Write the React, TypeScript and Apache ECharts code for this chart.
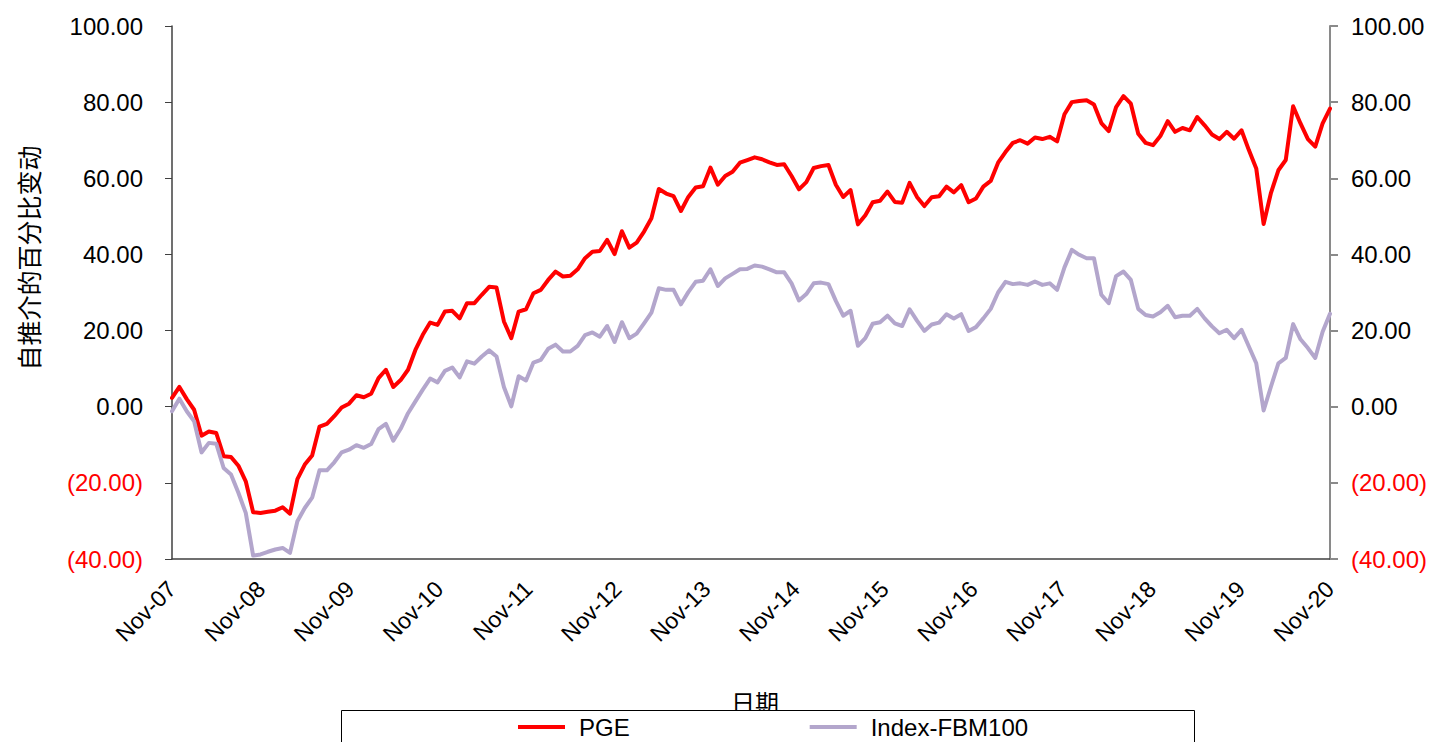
import { useEffect, useRef } from "react";
import * as echarts from "echarts";

const yearLabels = [
  "Nov-07", "Nov-08", "Nov-09", "Nov-10", "Nov-11", "Nov-12", "Nov-13",
  "Nov-14", "Nov-15", "Nov-16", "Nov-17", "Nov-18", "Nov-19", "Nov-20",
];

const seriesNames = ["PGE", "Index-FBM100"];
const yAxisTitle = "自推介的百分比变动";
const xAxisTitle = "日期";

const pge = [
  2.3, 5.2, 2.0, -0.8, -7.6, -6.5, -6.9, -13.0, -13.2, -15.5, -19.6, -27.7, -27.9, -27.6, -27.3, -26.4,
  -28.1, -19.0, -15.2, -12.8, -5.2, -4.5, -2.5, -0.2, 0.8, 3.0, 2.5, 3.4, 7.5, 9.7, 5.2, 7.0,
  9.7, 14.9, 18.9, 22.1, 21.5, 25.0, 25.2, 23.2, 27.2, 27.2, 29.4, 31.5, 31.3, 22.4, 18.0, 25.0,
  25.6, 29.8, 30.7, 33.3, 35.5, 34.2, 34.4, 36.1, 39.0, 40.7, 40.9, 43.8, 40.1, 46.1, 41.8, 43.1,
  46.0, 49.5, 57.2, 56.0, 55.3, 51.4, 55.1, 57.6, 57.9, 62.8, 58.3, 60.6, 61.7, 64.1, 64.8, 65.5,
  65.0, 64.2, 63.5, 63.7, 60.6, 57.1, 59.0, 62.7, 63.2, 63.5, 58.3, 55.1, 56.9, 47.9, 50.3, 53.7,
  54.1, 56.5, 53.8, 53.6, 58.8, 55.1, 52.7, 55.0, 55.3, 57.8, 56.3, 58.2, 53.7, 54.7, 57.8, 59.3,
  64.1, 66.9, 69.3, 70.0, 69.1, 70.7, 70.3, 70.9, 69.7, 76.8, 80.0, 80.3, 80.5, 79.4, 74.5, 72.4,
  78.7, 81.6, 79.6, 71.7, 69.3, 68.7, 71.1, 75.0, 72.2, 73.2, 72.6, 76.1, 73.9, 71.5, 70.3,
  72.2, 70.4, 72.6, 67.4, 62.6, 48.0, 56.2, 62.1, 64.8, 78.9, 74.4, 70.3, 68.3, 74.4, 78.3,
];

const fbm100 = [
  -1.2, 2.1, -1.2, -3.8, -12.0, -9.5, -9.7, -16.1, -17.8, -22.6, -27.9, -39.1, -38.8, -38.1, -37.5, -37.1,
  -38.4, -30.1, -26.6, -23.9, -16.7, -16.7, -14.6, -12.0, -11.3, -10.1, -10.8, -9.8, -5.9, -4.5, -8.9, -5.8,
  -1.7, 1.4, 4.5, 7.4, 6.4, 9.4, 10.3, 7.7, 11.9, 11.3, 13.2, 14.8, 13.2, 5.2, 0.1, 8.0,
  6.9, 11.6, 12.3, 15.2, 16.3, 14.5, 14.5, 16.0, 18.8, 19.5, 18.4, 21.2, 17.0, 22.2, 18.0, 19.2,
  21.9, 24.7, 31.1, 30.7, 30.7, 26.9, 30.1, 32.8, 33.1, 36.1, 31.7, 33.7, 34.9, 36.1, 36.2, 37.1,
  36.8, 36.1, 35.3, 35.3, 32.4, 27.9, 29.6, 32.4, 32.6, 32.2, 27.8, 23.9, 25.2, 16.0, 18.0, 21.8,
  22.2, 23.9, 21.9, 21.2, 25.6, 22.6, 19.9, 21.6, 22.1, 24.3, 23.2, 24.3, 19.9, 20.9, 23.2, 25.7,
  30.0, 32.8, 32.2, 32.4, 32.0, 32.9, 32.0, 32.4, 30.7, 36.6, 41.2, 39.9, 39.0, 39.0, 29.4, 27.2,
  34.3, 35.5, 33.3, 25.7, 24.1, 23.7, 24.8, 26.5, 23.5, 23.9, 23.9, 25.7, 23.2, 21.1, 19.3,
  20.2, 18.0, 20.2, 15.8, 11.4, -1.0, 5.3, 11.4, 12.8, 21.7, 17.7, 15.4, 12.8, 19.7, 24.4,
];

const FONT = '"Liberation Sans", Arial, sans-serif';
const CJK = '"Noto Sans CJK SC", sans-serif';

export default function App() {
  const ref = useRef<HTMLDivElement>(null);

  useEffect(() => {
    if (!ref.current) return;
    const chart = echarts.init(ref.current, null, { renderer: "svg" });
    const span = (yearLabels.length - 1) * 12;
    const step = span / (pge.length - 1);
    const pairs = (arr: number[]) => arr.map((v, i) => [i * step, v]);
    const fmt = (v: number) => (v < 0 ? `(${Math.abs(v).toFixed(2)})` : v.toFixed(2));
    const col = (v: any) => (Number(v) < 0 ? "#FF0000" : "#000000");

    const yCommon = {
      type: "value",
      min: -40,
      max: 100,
      interval: 20,
      splitLine: { show: false },
    };

    chart.setOption({
      animation: false,
      grid: { left: 172, right: 104, top: 26, bottom: 183, containLabel: false },
      xAxis: {
        type: "value",
        min: 0,
        max: span,
        interval: 12,
        splitLine: { show: false },
        axisTick: { show: false },
        axisLine: { show: true, onZero: false, lineStyle: { color: "#404040", width: 1.5 } },
        axisLabel: {
          rotate: 45,
          margin: 26,
          fontSize: 23,
          fontFamily: FONT,
          color: "#000",
          formatter: (v: number) => yearLabels[Math.round(v / 12)] ?? "",
        },
      },
      yAxis: [
        {
          ...yCommon,
          position: "left",
          axisLine: { show: true, onZero: false, lineStyle: { color: "#404040", width: 1.5 } },
          axisTick: { show: true, length: 7, lineStyle: { color: "#404040" } },
          axisLabel: {
            margin: 29,
            fontSize: 24,
            fontFamily: FONT,
            formatter: fmt,
            color: col,
          },
        },
        {
          ...yCommon,
          position: "right",
          axisLine: { show: true, onZero: false, lineStyle: { color: "#8A8A8A", width: 2 } },
          axisTick: { show: true, length: 8, lineStyle: { color: "#8A8A8A", width: 2 } },
          axisLabel: {
            margin: 21,
            fontSize: 24,
            fontFamily: FONT,
            formatter: fmt,
            color: col,
          },
        },
      ],
      legend: {
        data: seriesNames,
        left: 513,
        top: 710,
        icon: "rect",
        itemWidth: 47,
        itemHeight: 4,
        itemGap: 180,
        z: 10,
        textStyle: { fontSize: 24, fontFamily: FONT, color: "#000", padding: [0, 0, 0, 9] },
      },
      graphic: [
        {
          type: "text",
          x: 755,
          y: 701,
          z: 1,
          style: { text: xAxisTitle, font: `24px ${CJK}`, fill: "#000", align: "center", verticalAlign: "middle" },
        },
        {
          type: "rect",
          z: 5,
          shape: { x: 341.5, y: 710.5, width: 853, height: 40 },
          style: { fill: "#ffffff", stroke: "#000000", lineWidth: 1 },
        },
        {
          type: "text",
          x: 28,
          y: 258,
          rotation: Math.PI / 2,
          z: 1,
          style: { text: yAxisTitle, font: `25px ${CJK}`, fill: "#000", align: "center", verticalAlign: "middle" },
        },
      ],
      series: [
        {
          name: seriesNames[0],
          type: "line",
          yAxisIndex: 0,
          data: pairs(pge),
          showSymbol: false,
          symbol: "none",
          color: "#FF0000",
          lineStyle: { width: 4, color: "#FF0000", join: "round", cap: "round" },
        },
        {
          name: seriesNames[1],
          type: "line",
          yAxisIndex: 0,
          data: pairs(fbm100),
          showSymbol: false,
          symbol: "none",
          color: "#B3A6CC",
          lineStyle: { width: 4, color: "#B3A6CC", join: "round", cap: "round" },
        },
      ],
    });

    return () => chart.dispose();
  }, []);

  return (
    <div
      ref={ref}
      style={{ position: "fixed", left: 0, top: 0, width: 1434, height: 742, background: "#fff" }}
    />
  );
}
